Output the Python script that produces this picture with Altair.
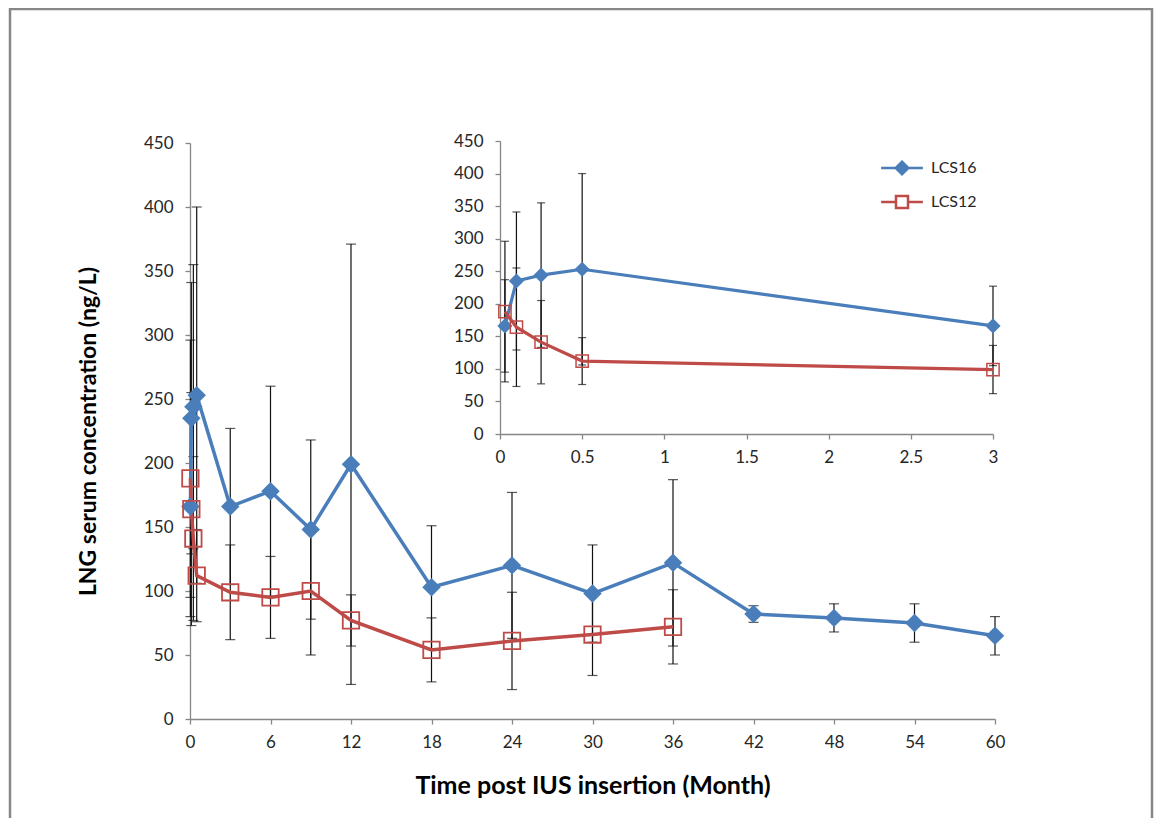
import altair as alt
import pandas as pd

# ---------------- data ----------------
series_names = ["LCS16", "LCS12"]

lcs16_month = [0.03, 0.1, 0.25, 0.5, 3, 6, 9, 12, 18, 24, 30, 36, 42, 48, 54, 60]
lcs16_mean = [166, 235, 244, 253, 166, 178, 148, 199, 103, 120, 98, 122, 82, 79, 75, 65]
lcs16_sd = [71, 106, 111, 147, 61, 82, 70, 172, 48, 57, 38, 65, 6.5, 11, 15, 15]

lcs12_month = [0.03, 0.1, 0.25, 0.5, 3, 6, 9, 12, 18, 24, 30, 36]
lcs12_mean = [188, 164, 141, 112, 99, 95, 100, 77, 54, 61, 66, 72]
lcs12_sd = [108, 91, 64, 36, 37, 32, 50, 20, 25, 38, 32, 29]

main_x_ticks = [0, 6, 12, 18, 24, 30, 36, 42, 48, 54, 60]
y_ticks = [0, 50, 100, 150, 200, 250, 300, 350, 400, 450]
inset_x_ticks = [0, 0.5, 1, 1.5, 2, 2.5, 3]

# ---------------- styling ----------------
BLUE = "#4A7EBB"
RED = "#BE4B48"
AXIS_GRAY = "#868686"
TEXT = "#262626"
FONT = "Lato"

rows = []
for name, months, means, sds in [
    ("LCS16", lcs16_month, lcs16_mean, lcs16_sd),
    ("LCS12", lcs12_month, lcs12_mean, lcs12_sd),
]:
    for m, v, s in zip(months, means, sds):
        rows.append({"series": name, "month": m, "mean": v, "lo": v - s, "hi": v + s})
df = pd.DataFrame(rows)
df_inset = df[df["month"] <= 3].reset_index(drop=True)
legend_df = pd.DataFrame({"series": series_names})

W, H = 805, 576

axis_common = dict(
    grid=False,
    domainColor=AXIS_GRAY,
    tickColor=AXIS_GRAY,
    tickSize=5,
    domainWidth=1.3,
    tickWidth=1.3,
    labelFont=FONT,
    labelFontSize=17,
    labelColor=TEXT,
    labelFlush=False,
    titleFont=FONT,
    titleColor="#000000",
    titleFontWeight="bold",
)


def xm(field="month"):
    return alt.X(
        f"{field}:Q",
        scale=alt.Scale(domain=[0, 60], nice=False, zero=False),
        axis=alt.Axis(
            values=main_x_ticks,
            title="Time post IUS insertion (Month)",
            titleFontSize=25,
            labelPadding=10,
            titlePadding=23,
            **axis_common,
        ),
    )


def ym(field):
    return alt.Y(
        f"{field}:Q",
        scale=alt.Scale(domain=[0, 450], nice=False),
        axis=alt.Axis(
            values=y_ticks,
            title="LNG serum concentration (ng/L)",
            titleFontSize=23,
            labelPadding=12,
            titlePadding=43,
            **axis_common,
        ),
    )


def xi(field="month"):
    return alt.X(
        f"{field}:Q",
        scale=alt.Scale(domain=[0, 3], range=[310, 803], nice=False, zero=False),
        axis=alt.Axis(
            orient="bottom",
            offset=-285,
            values=inset_x_ticks,
            format="~g",
            title=None,
            labelPadding=10,
            **axis_common,
        ),
    )


def yi(field):
    return alt.Y(
        f"{field}:Q",
        scale=alt.Scale(domain=[0, 450], range=[291, -2], nice=False),
        axis=alt.Axis(
            orient="left",
            offset=-310,
            values=y_ticks,
            title=None,
            labelPadding=12,
            **axis_common,
        ),
    )


def build(data, X, Y, cap, lw, dsize, ssize, sstroke):
    base = alt.Chart(data)
    rules = base.mark_rule(color="#111111", strokeWidth=1.2).encode(
        x=X(), y=Y("lo"), y2="hi"
    )
    cap_lo = base.mark_tick(
        orient="horizontal", size=cap, thickness=1.2, color="#111111"
    ).encode(x=X(), y=Y("lo"))
    cap_hi = base.mark_tick(
        orient="horizontal", size=cap, thickness=1.2, color="#111111"
    ).encode(x=X(), y=Y("hi"))
    line16 = base.transform_filter(alt.datum.series == "LCS16").mark_line(
        color=BLUE, strokeWidth=lw
    ).encode(x=X(), y=Y("mean"))
    line12 = base.transform_filter(alt.datum.series == "LCS12").mark_line(
        color=RED, strokeWidth=lw
    ).encode(x=X(), y=Y("mean"))
    pts16 = base.transform_filter(alt.datum.series == "LCS16").mark_point(
        shape="diamond", filled=True, color=BLUE, size=dsize, opacity=1
    ).encode(x=X(), y=Y("mean"))
    pts12 = base.transform_filter(alt.datum.series == "LCS12").mark_point(
        shape="square", filled=False, color=RED, size=ssize,
        strokeWidth=sstroke, opacity=1
    ).encode(x=X(), y=Y("mean"))
    return [rules, cap_lo, cap_hi, line16, line12, pts16, pts12]


# decorative chart-area border
frame = alt.Chart(pd.DataFrame({"k": [0]})).mark_rect(
    fillOpacity=0, stroke="#878787", strokeWidth=2.5
).encode(
    x=alt.value(-180), x2=alt.value(962), y=alt.value(-134), y2=alt.value(720)
)

main = alt.layer(frame, *build(df, xm, ym, 10, 3.5, 340, 270, 1.8))

# legend (custom symbols: line + marker)
path16 = "M-3.3,0H3.3M0,-1L1,0L0,1L-1,0Z"
path12 = "M-3.3,0H-0.95M0.95,0H3.3M-0.95,-0.95H0.95V0.95H-0.95Z"
leg = alt.Legend(
    title=None,
    orient="none",
    legendX=704,
    legendY=17,
    symbolSize=160,
    symbolStrokeWidth=2.5,
    symbolOpacity=1,
    labelFont=FONT,
    labelFontSize=16,
    labelColor=TEXT,
    labelOffset=21,
    rowPadding=10,
    padding=0,
)
legend_layer = alt.Chart(legend_df).transform_filter("false").mark_point(opacity=1).encode(
    shape=alt.Shape(
        "series:N",
        scale=alt.Scale(domain=series_names, range=[path16, path12]),
        legend=leg,
    ),
    stroke=alt.Stroke(
        "series:N", scale=alt.Scale(domain=series_names, range=[BLUE, RED]), legend=leg
    ),
    fill=alt.Fill(
        "series:N", scale=alt.Scale(domain=series_names, range=[BLUE, "#ffffff"]), legend=leg
    ),
)

inset = alt.layer(*build(df_inset, xi, yi, 8, 3.2, 230, 150, 1.5), legend_layer)

chart = (
    alt.layer(main, inset)
    .resolve_scale(x="independent", y="independent")
    .properties(
        width=W,
        height=H,
        autosize=alt.AutoSizeParams(type="none"),
        padding={"left": 182, "top": 135, "right": 159, "bottom": 99},
    )
    .configure_view(strokeWidth=0)
)

chart.save("out.html", embed_options={"renderer": "svg", "actions": False})
